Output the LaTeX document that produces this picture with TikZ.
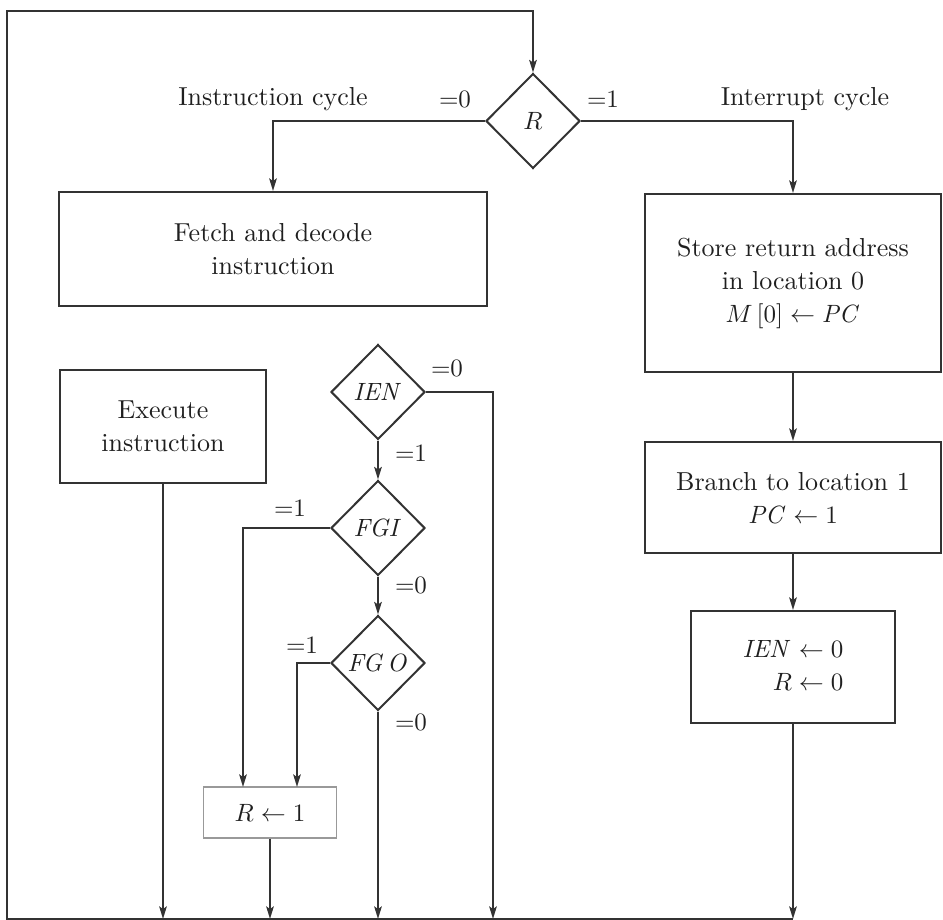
\documentclass[tikz,border=0pt]{standalone}
\usetikzlibrary{shapes.geometric,arrows.meta}
\begin{document}
\begin{tikzpicture}[x=0.4pt,y=-0.4pt,
  line width=0.8pt, draw=black!80,
  every node/.style={text=black!88, font=\fontsize{10.4}{13.2}\selectfont},
  arr/.style={-{Stealth[length=5pt,width=3pt,inset=1pt]}},
  box/.style={draw, rectangle, inner sep=0pt, align=center},
  lightbox/.style={draw=black!40, line width=0.5pt, rectangle, inner sep=0pt, align=center},
  test/.style={draw, diamond, inner sep=0pt, minimum width=37.6pt, minimum height=38pt},
  lbl/.style={inner sep=0pt}]
\useasboundingbox (0,0) rectangle (943,920);

% decision on R and the two cycles
\node[test] (R) at (533,121) {$R$};
\node[box, minimum width=170.8pt, minimum height=45.6pt] (fetch) at (273,249)
  {Fetch and decode\\instruction};
\node[box, minimum width=118.4pt, minimum height=71.2pt] (store) at (793,283)
  {Store return address\\in location 0\\$M\,[0]\leftarrow \mathit{PC}$};
\node[box, minimum width=118.4pt, minimum height=44.4pt] (branch) at (793,497.5)
  {Branch to location 1\\$\mathit{PC}\leftarrow 1$};
\node[box, minimum width=81.6pt, minimum height=44.8pt] (clear) at (793,667)
  {\begin{tabular}{@{}r@{}}$\mathit{IEN}\leftarrow 0$\\$R\leftarrow 0$\end{tabular}};
\node[box, minimum width=82pt, minimum height=45.2pt] (exec) at (163,426.5)
  {Execute\\instruction};

% interrupt checks
\node[test] (ien) at (378,392) {$\mathit{IEN}$};
\node[test] (fgi) at (378,528) {$\mathit{FGI}$};
\node[test] (fgo) at (378,663) {$\mathit{FG\mkern2mu O}$};
\node[lightbox, minimum width=53.2pt, minimum height=20.4pt] (setr) at (270,812.5)
  {$R\leftarrow 1$};

% labels
\node[lbl] (lic) at (273,99) {Instruction cycle};
\node[lbl] (lirq) at (805,99) {Interrupt cycle};
\node[lbl] (lr0) at (455,99) {${=}0$};
\node[lbl] (lr1) at (603,99) {${=}1$};
\node[lbl] (lien0) at (447,368) {${=}0$};
\node[lbl] (lien1) at (411,453) {${=}1$};
\node[lbl] (lfgi1) at (290,508) {${=}1$};
\node[lbl] (lfgi0) at (411,585) {${=}0$};
\node[lbl] (lfgo1) at (302,645) {${=}1$};
\node[lbl] (lfgo0) at (411,722) {${=}0$};

% collector line and loop back
\coordinate (bl) at (7,919);
\coordinate (tl) at (7,11);
\coordinate (br) at (793,919);
\coordinate (ienout) at (493,919);
\coordinate (fgiin) at (243,787);
\coordinate (fgoin) at (297,787);

\draw[arr] (br) -- (bl) -- (tl) -| (R.north);
\draw[arr] (R.west) -| (fetch.north);
\draw[arr] (R.east) -| (store.north);
\draw[arr] (store.south) -- (branch.north);
\draw[arr] (branch.south) -- (clear.north);
\draw[arr] (clear.south) -- (br);
\draw[arr] (exec.south) -- (exec.south |- bl);
\draw[arr] (ien.east) -| (ienout);
\draw[arr] (ien.south) -- (fgi.north);
\draw[arr] (fgi.south) -- (fgo.north);
\draw[arr] (fgo.south) -- (fgo.south |- bl);
\draw[arr] (fgi.west) -| (fgiin);
\draw[arr] (fgo.west) -| (fgoin);
\draw[arr] (setr.south) -- (setr.south |- bl);
\end{tikzpicture}
\end{document}
